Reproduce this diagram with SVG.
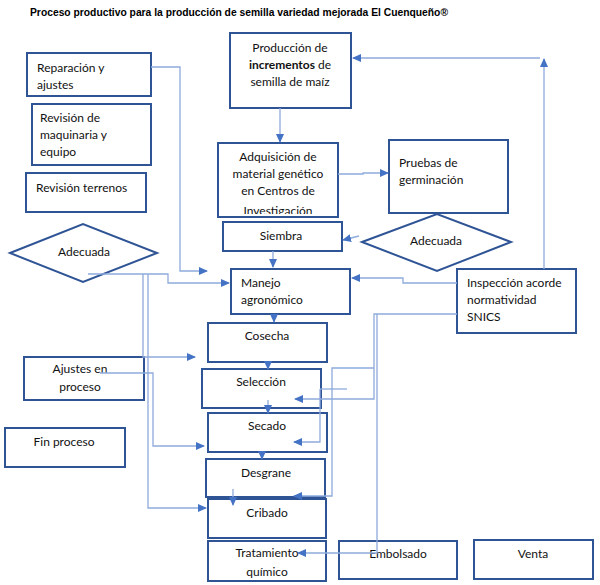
<svg xmlns="http://www.w3.org/2000/svg" width="600" height="585" viewBox="0 0 600 585">
<defs>
<marker id="ah" markerUnits="userSpaceOnUse" markerWidth="9" markerHeight="8" refX="8" refY="4" orient="auto">
<path d="M0,0 L9,4 L0,8 Z" fill="#4472C4"/>
</marker>
<clipPath id="cAdq"><rect x="219" y="144" width="118" height="70"/></clipPath>
<clipPath id="cTra"><rect x="209" y="542" width="116" height="36"/></clipPath>
</defs>
<style>
.box{fill:#fff;stroke:#2F5496;stroke-width:2}
.t{font-family:Lato,"Open Sans",sans-serif;font-size:12px;fill:#111}
.c{text-anchor:middle}
.ttl{font-family:"Liberation Sans",Arial,sans-serif;font-size:10.5px;font-weight:bold;fill:#000}
.ln{fill:none;stroke:#8FAADC;stroke-width:1.3}
.ar{marker-end:url(#ah)}
</style>
<rect width="600" height="585" fill="#fff"/>
<text class="ttl" x="30" y="16" textLength="418" lengthAdjust="spacingAndGlyphs">Proceso productivo para la producción de semilla variedad mejorada El Cuenqueño®</text>

<g id="n-reparacion"><rect class="box" x="27" y="53" width="124" height="43"/>
<text class="t" x="37" y="72">Reparación y</text><text class="t" x="37" y="89">ajustes</text></g>
<g id="n-revision-maq"><rect class="box" x="32" y="104" width="119" height="61"/>
<text class="t" x="40" y="122">Revisión de</text><text class="t" x="40" y="139">maquinaria y</text><text class="t" x="40" y="156">equipo</text></g>
<g id="n-revision-terr"><rect class="box" x="26" y="173" width="120" height="39"/>
<text class="t" x="36" y="192">Revisión terrenos</text></g>
<g id="n-adecuada-1"><polygon class="box" points="10,253 83,224 157,253 83,282"/>
<text class="t c" x="84" y="256">Adecuada</text></g>
<g id="n-produccion"><rect class="box" x="230" y="33" width="121" height="75"/>
<text class="t c" x="290" y="52">Producción de</text>
<text class="t c" x="290" y="69"><tspan font-weight="bold">incrementos</tspan> de</text>
<text class="t c" x="290" y="86">semilla de maíz</text></g>
<g id="n-adquisicion"><rect class="box" x="218" y="143" width="120" height="74"/>
<g clip-path="url(#cAdq)">
<text class="t c" x="278" y="161">Adquisición de</text>
<text class="t c" x="278" y="178">material genético</text>
<text class="t c" x="278" y="195">en Centros de</text>
<text class="t c" x="278" y="215">Investigación</text></g></g>
<g id="n-pruebas"><rect class="box" x="389" y="140" width="119" height="73"/>
<text class="t" x="399" y="167">Pruebas de</text><text class="t" x="399" y="184">germinación</text></g>
<g id="n-adecuada-2"><polygon class="box" points="362,242 437,214 511,242 437,271"/>
<text class="t c" x="436" y="245">Adecuada</text></g>
<g id="n-siembra"><rect class="box" x="223" y="222" width="119" height="29"/>
<text class="t c" x="281" y="240">Siembra</text></g>
<g id="n-manejo"><rect class="box" x="231" y="269" width="119" height="45"/>
<text class="t" x="241" y="287">Manejo</text><text class="t" x="241" y="304">agronómico</text></g>
<g id="n-inspeccion"><rect class="box" x="457" y="269" width="119" height="64"/>
<text class="t" x="467" y="287">Inspección acorde</text><text class="t" x="467" y="304">normatividad</text><text class="t" x="467" y="321">SNICS</text></g>
<g id="n-cosecha"><rect class="box" x="208" y="323" width="119" height="39"/>
<text class="t c" x="267" y="340">Cosecha</text></g>
<g id="n-ajustes"><rect class="box" x="24" y="357" width="120" height="43"/>
<text class="t c" x="80" y="373">Ajustes en</text><text class="t c" x="80" y="391">proceso</text></g>
<g id="n-seleccion"><rect class="box" x="202" y="369" width="119" height="39"/>
<text class="t c" x="261" y="386">Selección</text></g>
<g id="n-secado"><rect class="box" x="208" y="413" width="119" height="39"/>
<text class="t c" x="267" y="430">Secado</text></g>
<g id="n-fin"><rect class="box" x="5" y="428" width="120" height="39"/>
<text class="t c" x="64" y="446">Fin proceso</text></g>
<g id="n-desgrane"><rect class="box" x="206" y="459" width="119" height="38"/>
<text class="t c" x="266" y="477">Desgrane</text></g>
<g id="n-cribado"><rect class="box" x="208" y="499" width="118" height="39"/>
<text class="t c" x="267" y="517">Cribado</text></g>
<g id="n-tratamiento"><rect class="box" x="208" y="541" width="118" height="40"/>
<g clip-path="url(#cTra)">
<text class="t c" x="267" y="557">Tratamiento</text><text class="t c" x="267" y="576">químico</text></g></g>
<g id="n-embolsado"><rect class="box" x="339" y="541" width="118" height="38"/>
<text class="t c" x="398" y="558">Embolsado</text></g>
<g id="n-venta"><rect class="box" x="474" y="540" width="119" height="39"/>
<text class="t c" x="533" y="558">Venta</text></g>

<g id="connectors">
<path class="ln ar" d="M280,108 V142"/>
<path class="ln ar" d="M338,174 H363 V173 H388"/>
<path class="ln ar" d="M359,236 L343,240"/>
<path class="ln ar" d="M457,283 H403 V278 H352"/>
<path class="ln ar" d="M544,269 V59"/>
<path class="ln ar" d="M540,58 H353"/>
<path class="ln ar" d="M151,67 H180 V271 H207"/>
<path class="ln ar" d="M88,274 H168 V283 H229"/>
<path class="ln ar" d="M143,274 V357 H195"/>
<path class="ln ar" d="M148,274 V508 H206"/>
<path class="ln ar" d="M100,373 H153 V446 H204"/>
<path class="ln ar" d="M273,251 V267"/>
<path class="ln ar" d="M274,314 V322"/>
<path class="ln ar" d="M268,361 V369"/>
<path class="ln ar" d="M268,400 V413"/>
<path class="ln ar" d="M262,452 V459"/>
<path class="ln ar" d="M233,489 V505"/>
<path class="ln ar" d="M457,314 H374 V399 H295"/>
<path class="ln ar" d="M377,314 V553 H298"/>
<path class="ln" d="M320,389 H347"/>
<path class="ln ar" d="M320,389 V442 H294"/>
<path class="ln ar" d="M374,368 H332 V496 H294"/>
</g>
</svg>
